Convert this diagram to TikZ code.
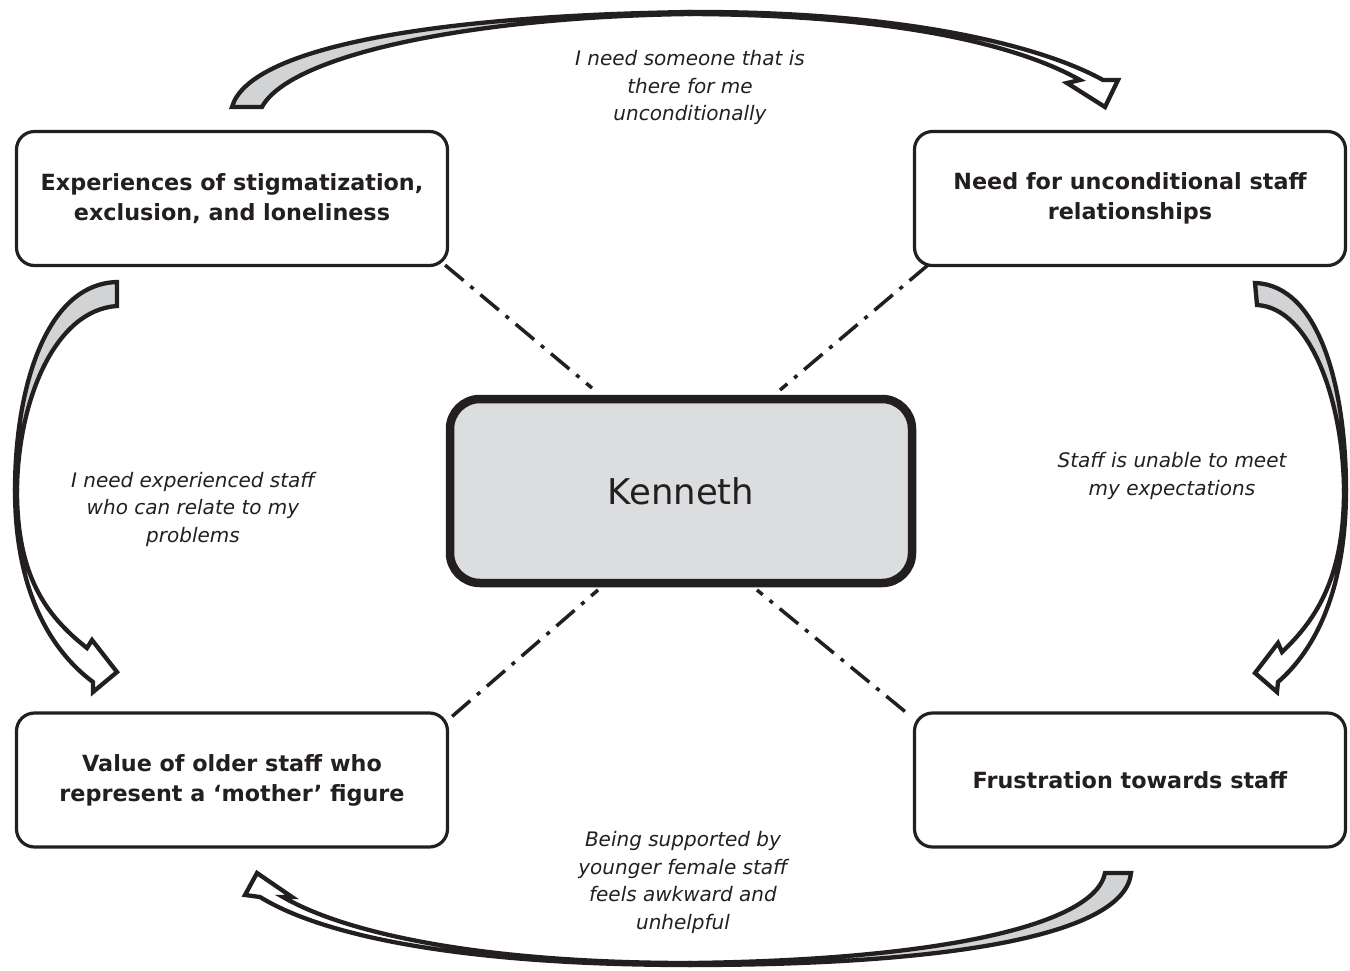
\documentclass[tikz,border=0pt]{standalone}
\usepackage{fontspec}
\setmainfont{DejaVu Sans}
\pgfdeclarelayer{background}
\pgfsetlayers{background,main}
\definecolor{ink}{RGB}{35,31,32}
\definecolor{hubgray}{RGB}{220,221,223}
\definecolor{ribgray}{RGB}{209,211,212}
\begin{document}
\begin{tikzpicture}[x=1pt,y=-1pt,
  box/.style={draw=ink,line width=3.2pt,rounded corners=18pt,fill=white,
    minimum width=431pt,minimum height=134pt,align=center,
    font=\bfseries\fontsize{22.3}{30}\selectfont,text=ink},
  hub/.style={draw=ink,line width=8.5pt,rounded corners=30pt,fill=hubgray,
    minimum width=462pt,minimum height=184pt,
    font=\fontsize{35.5}{42}\selectfont,text=ink},
  lab/.style={align=center,font=\itshape\fontsize{20}{27.5}\selectfont,
    text=ink,inner sep=0pt},
  link/.style={draw=ink,line width=3.5pt,
    dash pattern=on 24pt off 9pt on 4pt off 9pt},
  ribtail/.style={draw=ink,line width=4.3pt,fill=ribgray},
  ribhead/.style={draw=ink,line width=4.3pt,fill=white}]
\useasboundingbox (0,0) rectangle (1350,970);

% nodes
\node[hub] (c) at (681,491) {Kenneth};
\node[box] (tl) at (232,198.5) {Experiences of stigmatization,\\exclusion, and loneliness};
\node[box] (tr) at (1130,198.5) {Need for unconditional staff\\relationships};
\node[box] (bl) at (232,780) {Value of older staff who\\represent a `mother' figure};
\node[box] (br) at (1130,780) {Frustration towards staff};

\node[lab] (lt) at (690,87.5) {I need someone that is\\there for me\\unconditionally};
\node[lab] (ll) at (193,509) {I need experienced staff\\who can relate to my\\problems};
\node[lab] (lr) at (1172,476) {Staff is unable to meet\\my expectations};
\node[lab] (lb) at (683,882.5) {Being supported by\\younger female staff\\feels awkward and\\unhelpful};

% dash-dot links (behind boxes)
\coordinate (e1) at (592,388);
\coordinate (e2) at (780,390);
\coordinate (e3) at (598,590);
\coordinate (e4) at (757,590);
\coordinate (s1) at ([shift={(-4,-2)}]tl.south east);
\coordinate (s2) at ([shift={(15,-2)}]tr.south west);
\coordinate (s3) at ([shift={(3,5)}]bl.north east);
\coordinate (s4) at ([shift={(-8,0)}]br.north west);
\begin{pgfonlayer}{background}
\draw[link] (s1) -- (e1);
\draw[link] (s2) -- (e2);
\draw[link] (s3) -- (e3);
\draw[link] (s4) -- (e4);
\end{pgfonlayer}

% top ribbon arrow (tl -> tr)
\filldraw[ribtail] (232,107) .. controls (248,50) and (420,16) .. (690,12)
  -- (690,14) .. controls (470,17) and (290,55) .. (262,107) -- cycle;
\filldraw[ribhead] (690,12) .. controls (900,11) and (1040,45) .. (1103,80)
  -- (1118,80) -- (1105,107) -- (1067,83) -- (1080,80)
  .. controls (1020,46) and (900,15) .. (690,14) -- cycle;

% left ribbon arrow (tl -> bl)
\filldraw[ribtail] (117,282) .. controls (45,284) and (15,390) .. (15,490)
  -- (17,490) .. controls (18,400) and (55,310) .. (117,306) -- cycle;
\filldraw[ribhead] (15,490) .. controls (15,590) and (50,650) .. (93,682)
  -- (93,692) -- (117,672) -- (92,640) -- (87,648)
  .. controls (45,615) and (17,575) .. (17,490) -- cycle;

% right ribbon arrow (tr -> br)
\filldraw[ribtail] (1255,283) .. controls (1320,285) and (1346,390) .. (1346,490)
  -- (1344,490) .. controls (1343,400) and (1310,308) .. (1257,305) -- cycle;
\filldraw[ribhead] (1346,490) .. controls (1346,590) and (1315,650) .. (1278,682)
  -- (1277,692) -- (1255,673) -- (1278,643) -- (1282,652)
  .. controls (1318,618) and (1344,575) .. (1344,490) -- cycle;

% bottom ribbon arrow (br -> bl)
\filldraw[ribtail] (1131,873) .. controls (1125,935) and (950,965) .. (690,965)
  -- (690,963) .. controls (940,960) and (1095,925) .. (1105,873) -- cycle;
\filldraw[ribhead] (690,965) .. controls (480,965) and (330,940) .. (260,897)
  -- (245,895) -- (257,873) -- (292,897) -- (283,897)
  .. controls (345,933) and (480,963) .. (690,963) -- cycle;
\end{tikzpicture}
\end{document}
